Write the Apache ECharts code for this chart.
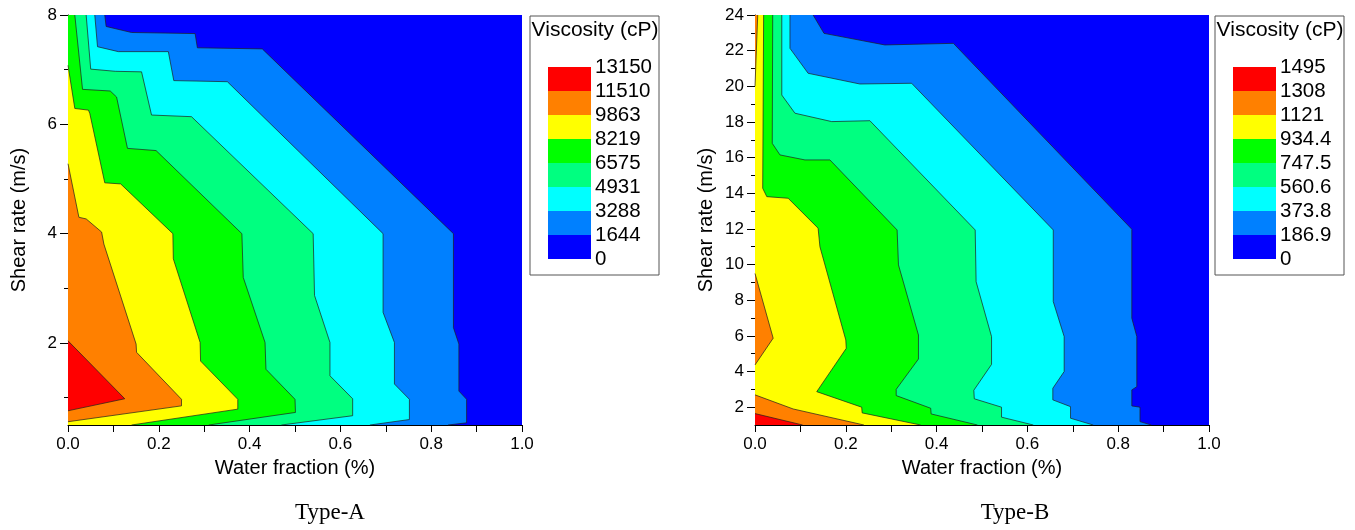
<!DOCTYPE html>
<html>
<head>
<meta charset="utf-8">
<script src="https://cdn.jsdelivr.net/npm/echarts@6/dist/echarts.min.js"></script>
<style>
  html, body { margin: 0; padding: 0; background: #fff; }
  #main { width: 1355px; height: 530px; }
</style>
</head>
<body>
<div id="main"></div>
<script>
// band colours, lowest to highest
var colors = ['#0000ff', '#0080ff', '#00ffff', '#00ff80', '#00ff00', '#ffff00', '#ff8000', '#ff0000'];

var levelsA = ['0', '1644', '3288', '4931', '6575', '8219', '9863', '11510', '13150'];
var levelsB = ['0', '186.9', '373.8', '560.6', '747.5', '934.4', '1121', '1308', '1495'];

var xTicks = [0, 0.1, 0.2, 0.3, 0.4, 0.5, 0.6, 0.7, 0.8, 0.9, 1.0];
var xLabels = [0, 0.2, 0.4, 0.6, 0.8, 1.0];
var yLabelsA = [2, 4, 6, 8];
var yMinorA = [1, 3, 5, 7];
var yLabelsB = [2, 4, 6, 8, 10, 12, 14, 16, 18, 20, 22, 24];
var yMinorB = [3, 5, 7, 9, 11, 13, 15, 17, 19, 21, 23];

// Type-A contour lines [water fraction, shear rate]
var a1644 = [[0.081, 8], [0.084, 7.79], [0.140, 7.68], [0.280, 7.66], [0.285, 7.40], [0.428, 7.38], [0.849, 4.00], [0.849, 2.28], [0.861, 1.98], [0.861, 1.12], [0.878, 0.97], [0.878, 0.54], [0.837, 0.5]];
var a3288 = [[0.059, 8], [0.065, 7.42], [0.111, 7.33], [0.221, 7.33], [0.233, 6.80], [0.351, 6.78], [0.694, 4.00], [0.694, 2.56], [0.719, 2.01], [0.719, 1.25], [0.752, 0.97], [0.752, 0.60], [0.665, 0.5]];
var a4931 = [[0.040, 8], [0.050, 7.01], [0.104, 6.97], [0.162, 6.96], [0.184, 6.17], [0.272, 6.14], [0.540, 4.00], [0.543, 2.87], [0.577, 2.01], [0.577, 1.40], [0.627, 0.98], [0.627, 0.67], [0.47, 0.5]];
var a6575 = [[0.015, 8], [0.032, 6.64], [0.093, 6.61], [0.107, 6.50], [0.131, 5.56], [0.194, 5.52], [0.383, 4.00], [0.386, 3.20], [0.434, 2.01], [0.436, 1.52], [0.500, 0.97], [0.501, 0.73], [0.31, 0.5]];
var a8219 = [[0, 7.08], [0.015, 6.29], [0.045, 6.26], [0.048, 6.20], [0.081, 4.93], [0.116, 4.91], [0.231, 4.00], [0.232, 3.54], [0.291, 2.01], [0.292, 1.67], [0.374, 0.97], [0.374, 0.79], [0.14, 0.5]];
var a9863 = [[0, 5.28], [0.024, 4.30], [0.040, 4.27], [0.074, 4.03], [0.079, 3.81], [0.150, 1.98], [0.151, 1.83], [0.250, 0.97], [0.250, 0.85], [0, 0.56]];
var a11510 = [[0, 2.04], [0.125, 0.98], [0, 0.76]];

// Type-B contour lines
var b186 = [[0.128, 24], [0.152, 22.97], [0.286, 22.32], [0.437, 22.41], [0.830, 11.98], [0.830, 6.99], [0.841, 5.96], [0.841, 3.15], [0.830, 2.97], [0.830, 2.07], [0.848, 2.0], [0.848, 1.19], [0.873, 1.0]];
var b373 = [[0.077, 24], [0.077, 22.13], [0.117, 20.73], [0.231, 20.13], [0.345, 20.17], [0.657, 11.94], [0.657, 7.92], [0.681, 5.96], [0.681, 4.0], [0.656, 3.06], [0.656, 2.41], [0.695, 2.03], [0.695, 1.38], [0.745, 1.0]];
var b560 = [[0.059, 24], [0.059, 19.51], [0.088, 18.49], [0.169, 18.02], [0.253, 18.07], [0.485, 11.94], [0.487, 9.04], [0.521, 5.96], [0.521, 4.4], [0.482, 2.95], [0.483, 2.47], [0.543, 2.0], [0.543, 1.44], [0.613, 1.0]];
var b747 = [[0.039, 24], [0.038, 16.80], [0.055, 16.15], [0.110, 15.87], [0.165, 15.87], [0.313, 11.94], [0.316, 9.98], [0.360, 6.05], [0.360, 4.7], [0.311, 3.0], [0.311, 2.65], [0.387, 1.94], [0.388, 1.62], [0.49, 1.0]];
var b934 = [[0.019, 24], [0.017, 14.28], [0.026, 13.81], [0.073, 13.72], [0.139, 12.04], [0.143, 11.0], [0.200, 5.77], [0.201, 5.3], [0.136, 2.87], [0.235, 2.0], [0.236, 1.68], [0.365, 1.0]];
var b1121top = [[0.006, 24], [0, 20]];
var b1121mid = [[0, 9.5], [0.040, 5.87], [0, 4.37]];
var b1121low = [[0, 2.69], [0.084, 1.9], [0.24, 1.0]];
var b1308 = [[0, 1.64], [0.105, 1.0]];

// [band index, line], painted in this order
var linesA = [[1, a1644], [2, a3288], [3, a4931], [4, a6575], [5, a8219], [6, a9863], [7, a11510]];
var linesB = [[1, b186], [2, b373], [3, b560], [4, b747], [5, b934], [6, b1121top], [6, b1121mid], [6, b1121low], [7, b1308]];

var font = 'Liberation Sans, Arial, sans-serif';

function makeRender(lines) {
    return function (params, api) {
        var lvl = lines[params.dataIndex][0];
        var pts = lines[params.dataIndex][1];
        var closed = pts.concat([[0, pts[pts.length - 1][1]], [0, pts[0][1]]]);
        return {
            type: 'group',
            children: [
                { type: 'polygon', shape: { points: closed.map(function (p) { return api.coord(p); }) },
                  style: { fill: colors[lvl] } },
                { type: 'polyline', z2: 50, shape: { points: pts.map(function (p) { return api.coord(p); }) },
                  style: { stroke: '#1e1e1e', lineWidth: 0.7, fill: null } }
            ]
        };
    };
}

function xAxisFor(gi) {
    return {
        type: 'value', gridIndex: gi, min: 0, max: 1,
        axisLine: { lineStyle: { color: '#000', width: 1 } },
        axisTick: { length: 7, customValues: xTicks, lineStyle: { color: '#000' } },
        axisLabel: { customValues: xLabels, formatter: function (v) { return v.toFixed(1); },
                     fontSize: 17, color: '#000', fontFamily: font, margin: 11 },
        splitLine: { show: false },
        name: 'Water fraction (%)', nameLocation: 'middle', nameGap: 33,
        nameTextStyle: { fontSize: 20, color: '#000', fontFamily: font }
    };
}

function yAxisFor(gi, min, max, labels) {
    return {
        type: 'value', gridIndex: gi, min: min, max: max,
        axisLine: { show: true, lineStyle: { color: '#000', width: 1 } },
        axisTick: { show: true, length: 8, customValues: labels, lineStyle: { color: '#000' } },
        axisLabel: { customValues: labels, fontSize: 17, color: '#000', fontFamily: font, margin: 11 },
        splitLine: { show: false },
        name: 'Shear rate (m/s)', nameLocation: 'middle', nameGap: 39,
        nameTextStyle: { fontSize: 20, color: '#000', fontFamily: font }
    };
}

function minorAxisFor(gi, min, max, ticks) {
    return {
        type: 'value', gridIndex: gi, min: min, max: max, position: 'left',
        axisLine: { show: false },
        axisTick: { show: true, length: 4, customValues: ticks, lineStyle: { color: '#000' } },
        axisLabel: { show: false },
        splitLine: { show: false }
    };
}

function legendBox(x, levels) {
    var items = [];
    items.push({ type: 'rect', shape: { x: x, y: 16, width: 129, height: 259 },
                 style: { fill: '#fff', stroke: '#555', lineWidth: 1 } });
    items.push({ type: 'text', x: x + 65, y: 30,
                 style: { text: 'Viscosity (cP)', fill: '#000', font: '21px ' + font,
                          textAlign: 'center', textVerticalAlign: 'middle' } });
    for (var i = 0; i < colors.length; i++) {
        items.push({ type: 'rect', shape: { x: x + 18, y: 259 - (i + 1) * 24, width: 43, height: 24 },
                     style: { fill: colors[i] } });
    }
    for (var j = 0; j < levels.length; j++) {
        items.push({ type: 'text', x: x + 65, y: 259 - j * 24,
                     style: { text: levels[j], fill: '#000', font: '20.5px ' + font,
                              textAlign: 'left', textVerticalAlign: 'middle' } });
    }
    return items;
}

var chart = echarts.init(document.getElementById('main'));
var option = {
    animation: false,
    grid: [
        { left: 68, top: 15, width: 454, height: 410, show: true, backgroundColor: colors[0], borderWidth: 0 },
        { left: 755, top: 15, width: 454, height: 410, show: true, backgroundColor: colors[0], borderWidth: 0 }
    ],
    xAxis: [xAxisFor(0), xAxisFor(1)],
    yAxis: [
        yAxisFor(0, 0.5, 8, yLabelsA),
        yAxisFor(1, 1, 24, yLabelsB),
        minorAxisFor(0, 0.5, 8, yMinorA),
        minorAxisFor(1, 1, 24, yMinorB)
    ],
    series: [
        { type: 'custom', xAxisIndex: 0, yAxisIndex: 0, renderItem: makeRender(linesA),
          data: linesA.map(function (l, i) { return [i]; }), silent: true },
        { type: 'custom', xAxisIndex: 1, yAxisIndex: 1, renderItem: makeRender(linesB),
          data: linesB.map(function (l, i) { return [i]; }), silent: true }
    ],
    graphic: legendBox(530, levelsA).concat(legendBox(1215, levelsB)).concat([
        { type: 'text', x: 330, y: 513,
          style: { text: 'Type-A', fill: '#000', font: '23px Liberation Serif, Times New Roman, serif',
                   textAlign: 'center', textVerticalAlign: 'middle' } },
        { type: 'text', x: 1015, y: 513,
          style: { text: 'Type-B', fill: '#000', font: '23px Liberation Serif, Times New Roman, serif',
                   textAlign: 'center', textVerticalAlign: 'middle' } }
    ])
};
chart.setOption(option);
</script>
</body>
</html>
